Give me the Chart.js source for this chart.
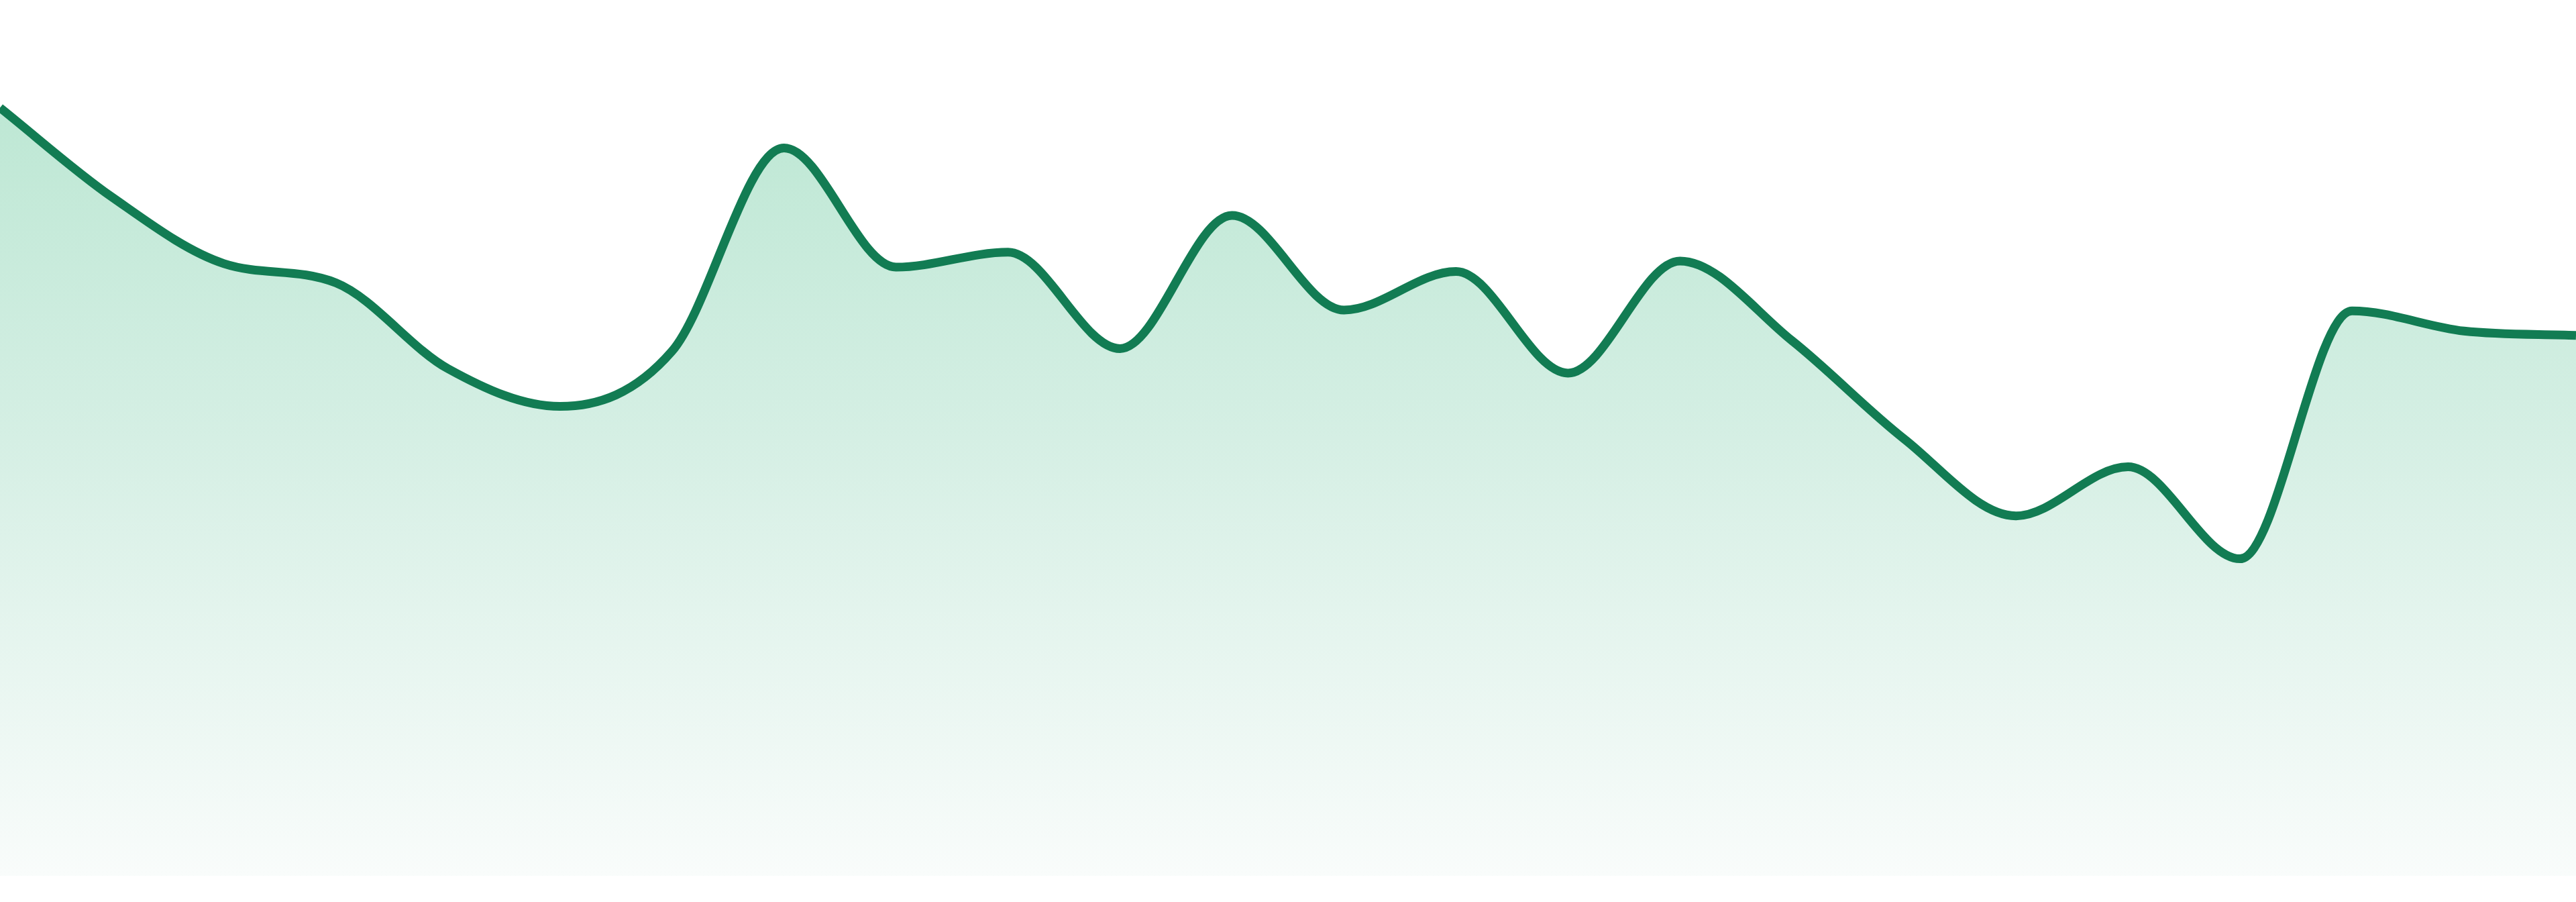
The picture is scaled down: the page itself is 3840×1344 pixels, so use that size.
<!DOCTYPE html>
<html>
<head>
<meta charset="utf-8">
<script src="https://cdn.jsdelivr.net/npm/chart.js@4/dist/chart.umd.min.js"></script>
<style>
  html, body { margin: 0; padding: 0; background: #fff; }
  #wrap { width: 3840px; height: 1344px; }
</style>
</head>
<body>
<div id="wrap"><canvas id="chart" width="3840" height="1344"></canvas></div>
<script>
const labels = ['1', '2', '3', '4', '5', '6', '7', '8', '9', '10', '11', '12',
    '13', '14', '15', '16', '17', '18', '19', '20', '21', '22', '23', '24'];
const values = [87.7, 77.5, 69.9, 67.7, 57.9, 53.6, 59.9, 83.1, 69.5, 71.2, 60.2, 75.4,
    64.6, 69.0, 57.4, 70.2, 61.1, 49.9, 41.1, 46.7, 36.2, 64.5, 62.2, 61.7];

const lineColor = '#127c53';

const areaFill = (ctx) => {
    const { chart } = ctx;
    const area = chart.chartArea;
    if (!area) return 'rgba(0,0,0,0)';
    const g = chart.ctx.createLinearGradient(0, area.top, 0, area.bottom);
    g.addColorStop(0, '#b6e5cf');
    g.addColorStop(0.5, '#d5efe4');
    g.addColorStop(1, '#f9fcfb');
    return g;
};

new Chart(document.getElementById('chart').getContext('2d'), {
    type: 'line',
    data: {
        labels: labels,
        datasets: [{
            data: values,
            borderColor: lineColor,
            borderWidth: 13,
            backgroundColor: areaFill,
            fill: 'start',
            cubicInterpolationMode: 'monotone',
            pointRadius: 0,
            pointHoverRadius: 0
        }]
    },
    options: {
        responsive: false,
        devicePixelRatio: 1,
        animation: false,
        layout: { padding: { top: 0, left: 0, right: 0, bottom: 39 } },
        plugins: {
            legend: { display: false },
            tooltip: { enabled: false }
        },
        scales: {
            x: { display: false },
            y: { display: false, min: 0, max: 100 }
        }
    }
});
</script>
</body>
</html>
